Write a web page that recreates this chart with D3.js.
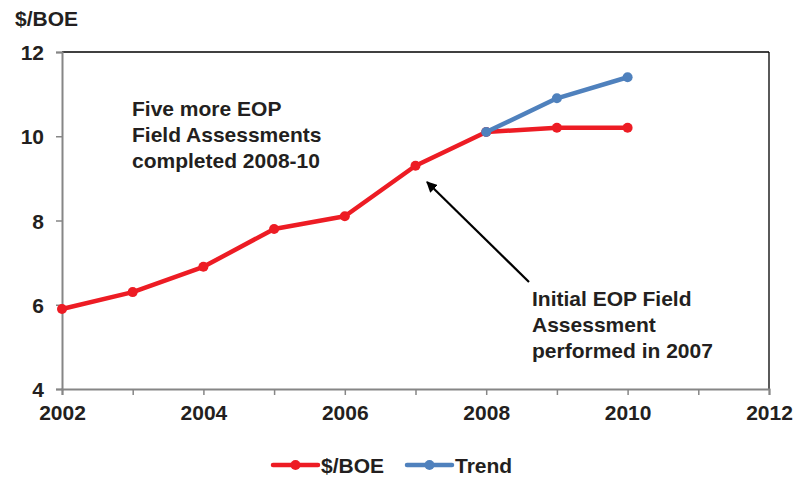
<!DOCTYPE html>
<html><head><meta charset="utf-8">
<script src="https://cdn.jsdelivr.net/npm/d3@7"></script>
<style>body{margin:0;background:#fff}svg{display:block}text{font-family:"Liberation Sans",Arial,sans-serif;font-weight:bold;fill:#231f20}</style>
</head><body>
<svg id="c" width="804" height="477"></svg>
<script>
const years = [2002,2003,2004,2005,2006,2007,2008,2009,2010];
const boe = [5.9,6.3,6.9,7.8,8.1,9.3,10.1,10.2,10.2];
const trendYears = [2008,2009,2010];
const trend = [10.1,10.9,11.4];
const yTicks = [4,6,8,10,12];
const xTicks = [2002,2004,2006,2008,2010,2012];
const seriesNames = ["$/BOE","Trend"];
const note1 = ["Five more EOP","Field Assessments","completed 2008-10"];
const note2 = ["Initial EOP Field","Assessment","performed in 2007"];

const svg = d3.select("#c");
const L=62,R=769,T=52,B=389;
const x = d3.scaleLinear().domain([2002,2012]).range([L,R]);
const y = d3.scaleLinear().domain([4,12]).range([B,T]);
const red="#ed1c24", blue="#4f81bd", grey="#868686";

// frame top/right
svg.append("line").attr("x1",L).attr("x2",R).attr("y1",T).attr("y2",T).attr("stroke","#000").attr("stroke-width",1.3);
svg.append("line").attr("x1",R).attr("x2",R).attr("y1",T).attr("y2",B).attr("stroke","#000").attr("stroke-width",1.3);

// y axis
const ya = svg.append("g").attr("transform",`translate(${L},0)`)
  .call(d3.axisLeft(y).tickValues(yTicks).tickSize(6).tickPadding(12).tickFormat(d3.format("d")));
ya.select(".domain").attr("stroke",grey).attr("stroke-width",2);
ya.selectAll(".tick line").attr("stroke",grey).attr("stroke-width",1.5);
ya.selectAll("text").attr("font-size",21).attr("font-family","Liberation Sans, Arial, sans-serif").attr("font-weight","bold").attr("fill","#231f20").attr("dy","0.36em");

// x axis
const xa = svg.append("g").attr("transform",`translate(0,${B})`)
  .call(d3.axisBottom(x).ticks(10).tickSize(6).tickPadding(12).tickFormat(d => xTicks.includes(d)? String(d) : ""));
xa.select(".domain").attr("stroke",grey).attr("stroke-width",2);
xa.selectAll(".tick line").attr("stroke",grey).attr("stroke-width",1.5);
xa.selectAll("text").attr("font-size",21).attr("font-family","Liberation Sans, Arial, sans-serif").attr("font-weight","bold").attr("fill","#231f20").attr("dy","0.6em");

// unit title
svg.append("text").attr("x",15).attr("y",26).attr("font-size",21).text("$/BOE");

// lines
const line = d3.line().x(d=>x(d[0])).y(d=>y(d[1]));
const boeData = years.map((d,i)=>[d,boe[i]]);
const trData = trendYears.map((d,i)=>[d,trend[i]]);
svg.append("path").datum(boeData).attr("d",line).attr("fill","none").attr("stroke",red).attr("stroke-width",4.5).attr("stroke-linejoin","round");
svg.selectAll(".pr").data(boeData).enter().append("circle").attr("cx",d=>x(d[0])).attr("cy",d=>y(d[1])).attr("r",5).attr("fill",red);
svg.append("path").datum(trData).attr("d",line).attr("fill","none").attr("stroke",blue).attr("stroke-width",4.5).attr("stroke-linejoin","round");
svg.selectAll(".pb").data(trData).enter().append("circle").attr("cx",d=>x(d[0])).attr("cy",d=>y(d[1])).attr("r",5).attr("fill",blue);

// annotations
const t1 = svg.append("text").attr("font-size",21);
note1.forEach((s,i)=>t1.append("tspan").attr("x",132).attr("y",116+i*26).text(s));
const t2 = svg.append("text").attr("font-size",21);
note2.forEach((s,i)=>t2.append("tspan").attr("x",532).attr("y",306+i*26).text(s));

// arrow
svg.append("defs").append("marker").attr("id","ah").attr("viewBox","0 0 10 10").attr("refX",9).attr("refY",5)
  .attr("markerWidth",5).attr("markerHeight",5).attr("markerUnits","strokeWidth").attr("orient","auto")
  .append("path").attr("d","M0,0L10,5L0,10z").attr("fill","#000");
svg.append("line").attr("x1",529).attr("y1",282).attr("x2",427).attr("y2",182).attr("stroke","#000").attr("stroke-width",2.2).attr("marker-end","url(#ah)");

// legend
const leg = [[273,red],[407,blue]];
leg.forEach((l,i)=>{
  const g = svg.append("g");
  g.append("line").attr("x1",l[0]).attr("x2",l[0]+45).attr("y1",465).attr("y2",465).attr("stroke",l[1]).attr("stroke-width",4.5).attr("stroke-linecap","round");
  g.append("circle").attr("cx",l[0]+22.5).attr("cy",465).attr("r",5).attr("fill",l[1]);
  g.append("text").attr("x",l[0]+48).attr("y",472.5).attr("font-size",21).text(seriesNames[i]);
});
</script>
</body></html>
